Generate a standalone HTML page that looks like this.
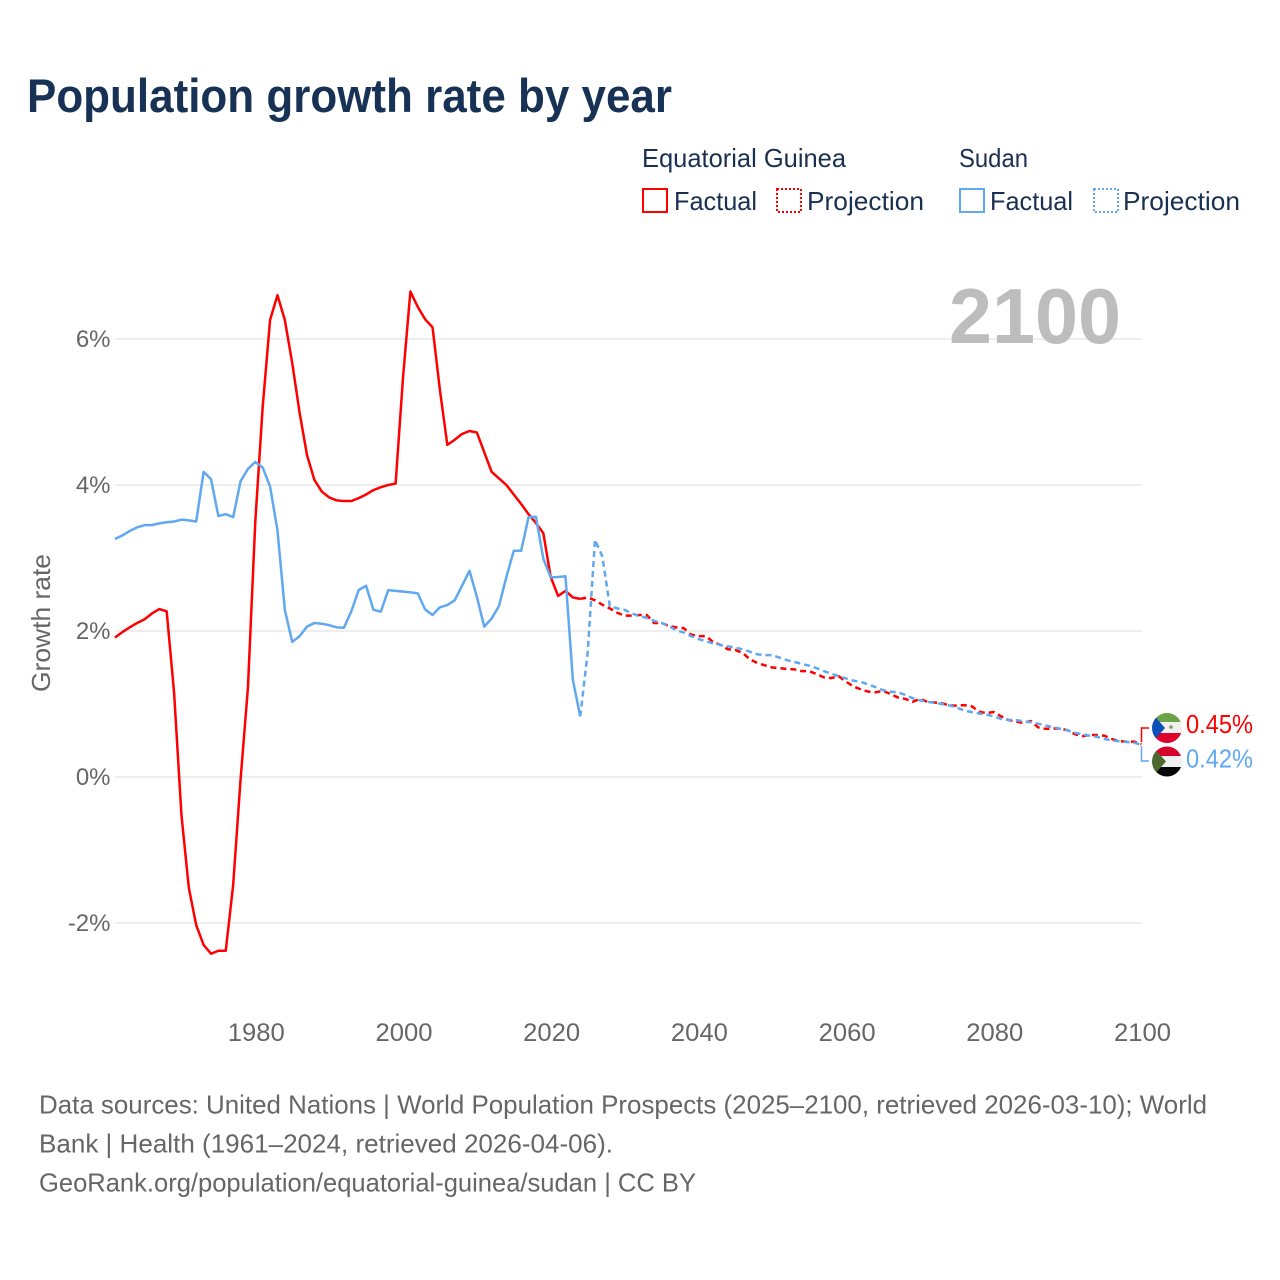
<!DOCTYPE html>
<html lang="en">
<head>
<meta charset="utf-8">
<title>Population growth rate by year</title>
<style>
html,body{margin:0;padding:0;background:#fff;}
svg{display:block;font-family:"Liberation Sans",sans-serif;}
.legend{font-size:26px;fill:#1a3050;}
.tick{font-size:25px;fill:#666;}
.source{font-size:26px;fill:#666;}
</style>
</head>
<body>
<svg id="chart" xmlns="http://www.w3.org/2000/svg" width="1280" height="1280" viewBox="0 0 1280 1280">
  <defs>
    <clipPath id="flag-clip-a"><circle cx="1167" cy="728" r="15"/></clipPath>
    <clipPath id="flag-clip-b"><circle cx="1167" cy="761.5" r="15"/></clipPath>
  </defs>
  <rect width="1280" height="1280" fill="#fff"/>
  <text x="27" y="112" font-size="47" font-weight="700" fill="#173254" textLength="645" lengthAdjust="spacingAndGlyphs">Population growth rate by year</text>

  <g>
    <text class="legend" x="642" y="167" textLength="204" lengthAdjust="spacingAndGlyphs">Equatorial Guinea</text>
    <text class="legend" x="959" y="167" textLength="69" lengthAdjust="spacingAndGlyphs">Sudan</text>
    <rect x="643" y="189" width="24" height="23" fill="none" stroke="#ff0000" stroke-width="2"/>
    <text class="legend" x="674" y="210" textLength="83" lengthAdjust="spacingAndGlyphs">Factual</text>
    <rect x="777" y="189" width="24" height="23" fill="none" stroke="#ff0000" stroke-width="2" stroke-dasharray="2 2"/>
    <text class="legend" x="807" y="210" textLength="117" lengthAdjust="spacingAndGlyphs">Projection</text>
    <rect x="960" y="189" width="24" height="23" fill="none" stroke="#60a8f0" stroke-width="2"/>
    <text class="legend" x="990" y="210" textLength="83" lengthAdjust="spacingAndGlyphs">Factual</text>
    <rect x="1094" y="189" width="24" height="23" fill="none" stroke="#60a8f0" stroke-width="2" stroke-dasharray="2 2"/>
    <text class="legend" x="1123" y="210" textLength="117" lengthAdjust="spacingAndGlyphs">Projection</text>
  </g>

  <g id="grid-layer"></g>
  <text x="949" y="343" font-size="78" font-weight="700" fill="#bdbdbd" textLength="172" lengthAdjust="spacingAndGlyphs">2100</text>
  <g id="tick-layer"></g>
  <text class="tick" transform="translate(50,692) rotate(-90)" style="font-size:26px" textLength="138" lengthAdjust="spacingAndGlyphs">Growth rate</text>
  <g id="series-layer" fill="none" stroke-linejoin="round"></g>

  <g>
    <path id="connector-eg" d="M1141.5 742V728H1149" fill="none" stroke="#ff0000" stroke-width="1.500"/>
    <path id="connector-sd" d="M1141.5 746V761H1149" fill="none" stroke="#60a8f0" stroke-width="1.500"/>
    <g clip-path="url(#flag-clip-a)">
      <rect x="1152" y="713" width="30" height="11" fill="#6ba345"/>
      <rect x="1152" y="722" width="30" height="11" fill="#f0f0f0"/>
      <rect x="1152" y="733" width="30" height="10" fill="#e0002d"/>
      <path d="M1152 713L1165 728L1152 743Z" fill="#0b4fb8"/>
      <circle cx="1171" cy="727" r="1.8" fill="#7f9a6a"/>
    </g>
    <g clip-path="url(#flag-clip-b)">
      <rect x="1152" y="746" width="30" height="10" fill="#d8002c"/>
      <rect x="1152" y="756" width="30" height="11" fill="#f0f0f0"/>
      <rect x="1152" y="767" width="30" height="10" fill="#050505"/>
      <path d="M1152 746L1166 761.500L1152 777Z" fill="#4c6a2f"/>
    </g>
    <text x="1186" y="733" font-size="26" fill="#ff0000" textLength="67" lengthAdjust="spacingAndGlyphs">0.45%</text>
    <text x="1186" y="767.5" font-size="26" fill="#60a8f0" textLength="67" lengthAdjust="spacingAndGlyphs">0.42%</text>
  </g>

  <g>
    <text class="source" x="39" y="1113.5" textLength="1168" lengthAdjust="spacingAndGlyphs">Data sources: United Nations | World Population Prospects (2025–2100, retrieved 2026-03-10); World</text>
    <text class="source" x="39" y="1152.5" textLength="574" lengthAdjust="spacingAndGlyphs">Bank | Health (1961–2024, retrieved 2026-04-06).</text>
    <text class="source" x="39" y="1191.5" textLength="657" lengthAdjust="spacingAndGlyphs">GeoRank.org/population/equatorial-guinea/sudan | CC BY</text>
  </g>
</svg>
<script>
const xTickYears = [1980, 2000, 2020, 2040, 2060, 2080, 2100];
const yTickValues = [-2, 0, 2, 4, 6];
const yTickLabels = ["-2%", "0%", "2%", "4%", "6%"];
const factualStartYear = 1961;
const projectionStartYear = 2024;

const guineaFactual = [1.91,1.985,2.05,2.11,2.16,2.24,2.30,2.27,1.16,-0.52,-1.52,-2.03,-2.30,-2.42,-2.38,-2.38,-1.48,-0.04,1.22,3.50,5.07,6.26,6.60,6.26,5.67,4.99,4.41,4.07,3.91,3.83,3.79,3.78,3.78,3.82,3.87,3.93,3.97,4.00,4.02,5.47,6.65,6.44,6.27,6.16,5.30,4.55,4.62,4.70,4.74,4.72,4.45,4.18,4.09,4.00,3.87,3.74,3.60,3.48,3.34,2.74,2.48,2.55,2.46,2.44];
const guineaProjection = [2.44,2.46,2.42,2.36,2.31,2.25,2.21,2.21,2.22,2.22,2.11,2.11,2.07,2.05,2.04,1.95,1.93,1.93,1.85,1.81,1.75,1.74,1.70,1.61,1.56,1.53,1.50,1.49,1.48,1.475,1.45,1.45,1.41,1.365,1.355,1.38,1.305,1.24,1.20,1.17,1.16,1.18,1.137,1.09,1.07,1.03,1.07,1.03,1.02,1.01,0.98,0.977,0.985,0.97,0.895,0.875,0.89,0.83,0.78,0.76,0.74,0.767,0.68,0.66,0.665,0.665,0.64,0.585,0.56,0.575,0.575,0.565,0.52,0.49,0.485,0.485,0.45];
const sudanFactual = [3.26,3.31,3.37,3.42,3.45,3.45,3.475,3.49,3.50,3.525,3.515,3.50,4.18,4.08,3.575,3.60,3.56,4.05,4.22,4.315,4.24,3.98,3.38,2.29,1.85,1.93,2.06,2.11,2.10,2.08,2.05,2.045,2.27,2.56,2.62,2.29,2.265,2.56,2.55,2.54,2.53,2.515,2.295,2.22,2.325,2.355,2.42,2.62,2.825,2.47,2.06,2.17,2.345,2.74,3.10,3.10,3.56,3.565,2.99,2.735,2.74,2.75,1.33,0.83];
const sudanProjection = [0.83,1.70,3.25,3.02,2.34,2.31,2.29,2.24,2.205,2.18,2.14,2.11,2.07,2.01,1.98,1.93,1.89,1.86,1.83,1.81,1.79,1.77,1.75,1.715,1.68,1.67,1.67,1.635,1.60,1.575,1.55,1.525,1.49,1.45,1.415,1.38,1.35,1.32,1.30,1.27,1.23,1.19,1.17,1.16,1.125,1.08,1.05,1.03,1.015,1.0,0.98,0.95,0.91,0.89,0.87,0.855,0.83,0.795,0.78,0.78,0.765,0.75,0.73,0.705,0.685,0.66,0.64,0.605,0.585,0.565,0.55,0.52,0.50,0.49,0.48,0.47,0.44];

const NS = 'http://www.w3.org/2000/svg';
const xScale = year => 255.3 + (year - 1980) * 7.385;
const yScale = value => 777 - value * 73;

const gridLayer = document.getElementById('grid-layer');
const tickLayer = document.getElementById('tick-layer');
const seriesLayer = document.getElementById('series-layer');

yTickValues.forEach((value, i) => {
  const line = document.createElementNS(NS, 'line');
  line.setAttribute('x1', 115);
  line.setAttribute('x2', 1142);
  line.setAttribute('y1', yScale(value));
  line.setAttribute('y2', yScale(value));
  line.setAttribute('stroke', '#eeeeee');
  line.setAttribute('stroke-width', 2);
  
  
  gridLayer.appendChild(line);

  const label = document.createElementNS(NS, 'text');
  label.setAttribute('class', 'tick');
  label.setAttribute('x', 110.5);
  label.setAttribute('y', yScale(value) + 8);
  label.setAttribute('text-anchor', 'end');
  label.style.fontSize = '24px';
  label.textContent = yTickLabels[i];
  
  
  tickLayer.appendChild(label);
});

xTickYears.forEach(year => {
  const label = document.createElementNS(NS, 'text');
  label.setAttribute('class', 'tick');
  label.setAttribute('x', xScale(year) + 1);
  label.setAttribute('y', 1041);
  label.setAttribute('text-anchor', 'middle');
  label.setAttribute('textLength', 57);
  label.setAttribute('lengthAdjust', 'spacingAndGlyphs');
  label.textContent = String(year);
  
  
  tickLayer.appendChild(label);
});

function drawSeries(values, startYear, color, dashed, name) {
  const d = values.map((value, i) =>
    (i ? 'L' : 'M') + xScale(startYear + i).toFixed(2) + ' ' + yScale(value).toFixed(2)
  ).join('');
  const path = document.createElementNS(NS, 'path');
  path.setAttribute('d', d);
  path.setAttribute('stroke', color);
  path.setAttribute('stroke-width', 2.5);
  if (dashed) path.setAttribute('stroke-dasharray', '6 4');
  
  
  seriesLayer.appendChild(path);
}

drawSeries(guineaFactual, factualStartYear, '#ff0000', false, 'line-equatorial-guinea-factual');
drawSeries(guineaProjection, projectionStartYear, '#ff0000', true, 'line-equatorial-guinea-projection');
drawSeries(sudanFactual, factualStartYear, '#60a8f0', false, 'line-sudan-factual');
drawSeries(sudanProjection, projectionStartYear, '#60a8f0', true, 'line-sudan-projection');
</script>
</body>
</html>
